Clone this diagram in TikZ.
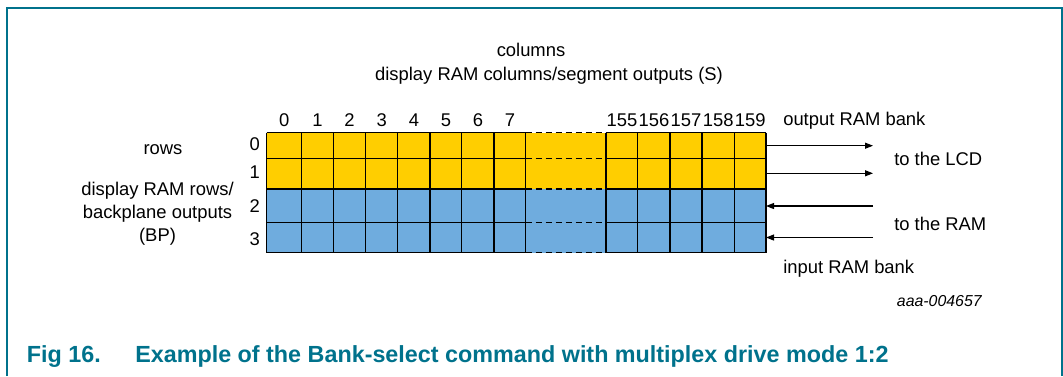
\documentclass[tikz,border=0pt]{standalone}
\usepackage{fontspec}
\setmainfont{Liberation Sans}
\usetikzlibrary{arrows.meta}
\definecolor{nxpteal}{RGB}{0,114,140}
\definecolor{ramyellow}{RGB}{255,206,0}
\definecolor{ramblue}{RGB}{111,172,222}
\begin{document}
\begin{tikzpicture}[x=0.75pt,y=-0.75pt,
  lbl/.style={font=\fontsize{13.8}{17.5}\selectfont, inner sep=0pt, anchor=base},
  lblw/.style={lbl, anchor=base west},
  rownum/.style={lbl, anchor=base east},
  gridline/.style={black, line width=0.8pt},
  dashline/.style={black, line width=0.8pt, dash pattern=on 5pt off 2.5pt},
  io/.style={black, line width=0.8pt, -{Triangle[length=6pt,width=4.5pt]}},
  caption/.style={font=\fontsize{17.5}{21}\selectfont\bfseries, text=nxpteal, inner sep=0pt, anchor=base west}]
\useasboundingbox (0,0) rectangle (1063,376);
% frame
\draw[nxpteal, line width=1.3pt] (7.3,376) -- (7.3,8.3) -- (1061.7,8.3) -- (1061.7,376);
% fills
\fill[ramyellow] (266.7,132.7) rectangle (766,189);
\fill[ramblue] (266.7,189) rectangle (766,252.7);
% horizontal lines
\foreach \y in {132.7,158.3,189,222.3,252.7} {
  \draw[gridline] (266.7,\y) -- (525.7,\y);
  \draw[dashline] (525.7,\y) -- (606,\y);
  \draw[gridline] (606,\y) -- (766,\y);
}
% vertical lines
\foreach \x in {266.7,301.7,333.3,365.7,397.7,430,461.7,494,525.7,606,637.7,670,702,734.3,766} {
  \draw[gridline] (\x,132.7) -- (\x,252.7);
}
% column numbers
\node[lbl] (c0) at (284.2,126) {0};
\node[lbl] (c1) at (317.5,126) {1};
\node[lbl] (c2) at (349.5,126) {2};
\node[lbl] (c3) at (381.7,126) {3};
\node[lbl] (c4) at (413.9,126) {4};
\node[lbl] (c5) at (445.9,126) {5};
\node[lbl] (c6) at (477.9,126) {6};
\node[lbl] (c7) at (509.9,126) {7};
\node[lbl] (c155) at (621.9,126) {155};
\node[lbl] (c156) at (653.9,126) {156};
\node[lbl] (c157) at (686,126) {157};
\node[lbl] (c158) at (718.2,126) {158};
\node[lbl] (c159) at (750.2,126) {159};
% row numbers
\node[rownum] (r0) at (260,150) {0};
\node[rownum] (r1) at (260,178) {1};
\node[rownum] (r2) at (260,212.7) {2};
\node[rownum] (r3) at (260,245) {3};
% headings
\node[lbl] (colhead) at (531,56.7) {columns};
\node[lbl] (colsub) at (549,80) {display RAM columns/segment outputs (S)};
\node[lbl] (rowhead) at (163,154) {rows};
\node[lbl, align=center, anchor=north] (rowsub) at (157.5,181.5) {display RAM rows/\\backplane outputs\\(BP)};
% right side labels
\node[lblw] (outbank) at (783,125) {output RAM bank};
\node[lblw] (tolcd) at (894,165) {to the LCD};
\node[lblw] (toram) at (894,230) {to the RAM};
\node[lblw] (inbank) at (783,273.3) {input RAM bank};
% connectors
\coordinate (g0) at (766,145.7);
\coordinate (g1) at (766,173.3);
\coordinate (g2) at (766,206);
\coordinate (g3) at (766,237.5);
\coordinate (e0) at (873,145.7);
\coordinate (e1) at (873,173.3);
\coordinate (e2) at (873,206);
\coordinate (e3) at (873,237.5);
\draw[io] (g0) -- (e0);
\draw[io] (g1) -- (e1);
\draw[io] (e2) -- (g2);
\draw[io] (e3) -- (g3);
% figure id
\node[inner sep=0pt, anchor=base west, font=\fontsize{11.9}{14}\selectfont\itshape] (figid) at (896.7,306.7) {aaa-004657};
% caption
\node[caption] (capnum) at (26.7,362.7) {Fig 16.};
\node[caption] (captext) at (135,362.7) {Example of the Bank-select command with multiplex drive mode 1:2};
\end{tikzpicture}
\end{document}
